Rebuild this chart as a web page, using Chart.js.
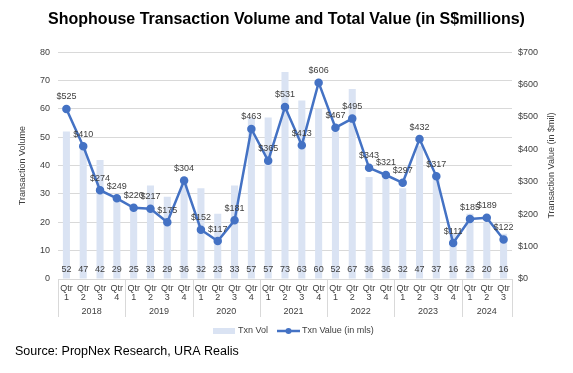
<!DOCTYPE html>
<html>
<head>
<meta charset="utf-8">
<script src="https://cdn.jsdelivr.net/npm/chart.js@4.4.1/dist/chart.umd.min.js"></script>
<style>
  html, body { margin: 0; padding: 0; background: #fff; }
  #wrap { width: 573px; height: 373px; position: relative; }
</style>
</head>
<body>
<div id="wrap"><canvas id="shopChart" width="573" height="373"></canvas></div>
<script>
const years = ["2018", "2019", "2020", "2021", "2022", "2023", "2024"];
const quarters = [
  "1", "2", "3", "4", "1", "2", "3", "4", "1", "2", "3", "4", "1", "2", "3", "4",
  "1", "2", "3", "4", "1", "2", "3", "4", "1", "2", "3"
];
const txnVol = [
  52, 47, 42, 29, 25, 33, 29, 36, 32, 23, 33, 57, 57, 73, 63, 60,
  52, 67, 36, 36, 32, 47, 37, 16, 23, 20, 16
];
const txnValue = [
  525, 410, 274, 249, 220, 217, 175, 304, 152, 117, 181, 463, 365, 531, 413, 606,
  467, 495, 343, 321, 297, 432, 317, 111, 185, 189, 122
];
const volTicks = [0, 10, 20, 30, 40, 50, 60, 70, 80];
const valueTicks = [0, 100, 200, 300, 400, 500, 600, 700];

const barColor = "#dae3f3";
const lineColor = "#4472c4";
const textColor = "#404040";
const gridColor = "#d9d9d9";
const font = "Arial, 'Liberation Sans', sans-serif";

// Qtr labels on two lines
const labels = quarters.map(q => ["Qtr", q]);

// labels, year groups, legend and source line
const extras = {
  id: "extras",
  afterDatasetsDraw(chart) {
    const ctx = chart.ctx;
    const area = chart.chartArea;
    ctx.save();
    ctx.font = "9px " + font;
    ctx.fillStyle = textColor;
    ctx.textAlign = "center";
    ctx.textBaseline = "middle";

    // volume labels near the bottom of each bar
    chart.getDatasetMeta(0).data.forEach((bar, i) => {
      ctx.fillText(String(txnVol[i]), bar.x, area.bottom - 9);
    });

    // value labels above each point
    chart.getDatasetMeta(1).data.forEach((pt, i) => {
      ctx.fillText("$" + txnValue[i], pt.x, pt.y - 12);
    });
    ctx.restore();
  },
  afterDraw(chart) {
    const ctx = chart.ctx;
    const area = chart.chartArea;
    const x = chart.scales.x;
    const step = (area.right - area.left) / quarters.length;
    ctx.save();

    // year groups under the quarter labels
    ctx.strokeStyle = gridColor;
    ctx.lineWidth = 1;
    ctx.font = "9px " + font;
    ctx.fillStyle = textColor;
    ctx.textAlign = "center";
    ctx.textBaseline = "middle";
    years.forEach((yr, g) => {
      const first = g * 4;
      const last = Math.min(first + 3, quarters.length - 1);
      const x0 = x.getPixelForValue(first) - step / 2;
      const x1 = x.getPixelForValue(last) + step / 2;
      ctx.beginPath();
      ctx.moveTo(Math.round(x0) + 0.5, area.bottom);
      ctx.lineTo(Math.round(x0) + 0.5, area.bottom + 38);
      if (g === years.length - 1) {
        ctx.moveTo(Math.round(x1) + 0.5, area.bottom);
        ctx.lineTo(Math.round(x1) + 0.5, area.bottom + 38);
      }
      ctx.stroke();
      ctx.fillText(yr, (x0 + x1) / 2, area.bottom + 33);
    });

    // right axis title, read bottom to top like the left one
    ctx.save();
    ctx.translate(552, (area.top + area.bottom) / 2);
    ctx.rotate(-Math.PI / 2);
    ctx.fillText("Transaction Value (in $mil)", 0, 0);
    ctx.restore();

    // legend
    const ly = 331;
    ctx.fillStyle = barColor;
    ctx.fillRect(213, ly - 3, 22, 6);
    ctx.fillStyle = textColor;
    ctx.textAlign = "left";
    ctx.fillText("Txn Vol", 238, ly);
    ctx.strokeStyle = lineColor;
    ctx.lineWidth = 2.5;
    ctx.beginPath();
    ctx.moveTo(277, ly);
    ctx.lineTo(300, ly);
    ctx.stroke();
    ctx.fillStyle = lineColor;
    ctx.beginPath();
    ctx.arc(288.5, ly, 3, 0, Math.PI * 2);
    ctx.fill();
    ctx.fillStyle = textColor;
    ctx.fillText("Txn Value (in mls)", 302, ly);

    // source
    ctx.fillStyle = "#000";
    ctx.font = "12.5px " + font;
    ctx.fillText("Source: PropNex Research, URA Realis", 15, 352);
    ctx.restore();
  }
};

new Chart(document.getElementById("shopChart"), {
  type: "bar",
  data: {
    labels: labels,
    datasets: [
      {
        type: "bar",
        label: "Txn Vol",
        data: txnVol,
        backgroundColor: barColor,
        yAxisID: "y",
        categoryPercentage: 1,
        barPercentage: 0.42,
        order: 2
      },
      {
        type: "line",
        label: "Txn Value (in mls)",
        data: txnValue,
        borderColor: lineColor,
        backgroundColor: lineColor,
        borderWidth: 2.5,
        pointRadius: 3,
        pointHoverRadius: 3,
        tension: 0,
        yAxisID: "y1",
        order: 1
      }
    ]
  },
  options: {
    responsive: false,
    animation: false,
    layout: { padding: { left: 0, right: 0, top: 0, bottom: 52 } },
    plugins: {
      legend: { display: false },
      tooltip: { enabled: false },
      title: {
        display: true,
        text: "Shophouse Transaction Volume and Total Value (in S$millions)",
        color: "#000",
        font: { family: font, size: 16, weight: "bold" },
        padding: { top: 10, bottom: 23 }
      }
    },
    scales: {
      x: {
        offset: true,
        grid: { display: false, drawTicks: false },
        border: { display: true, color: gridColor },
        ticks: {
          color: textColor,
          font: { family: font, size: 9, lineHeight: 1.0 },
          padding: 5,
          maxRotation: 0,
          autoSkip: false
        },
        afterFit(scale) { scale.height = 42; }
      },
      y: {
        position: "left",
        min: 0,
        max: 80,
        afterBuildTicks(scale) { scale.ticks = volTicks.map(v => ({ value: v })); },
        grid: { color: gridColor, drawTicks: false },
        border: { display: false },
        ticks: { color: textColor, font: { family: font, size: 9 }, padding: 8 },
        title: {
          display: true,
          text: "Transaction Volume",
          color: textColor,
          font: { family: font, size: 9 },
          padding: { top: 17, bottom: 0 }
        },
        afterFit(scale) { scale.width = 58; }
      },
      y1: {
        position: "right",
        min: 0,
        max: 700,
        afterBuildTicks(scale) { scale.ticks = valueTicks.map(v => ({ value: v })); },
        grid: { display: false, drawTicks: false },
        border: { display: false },
        ticks: {
          color: textColor,
          font: { family: font, size: 9 },
          padding: 6,
          callback: v => "$" + v
        },
        afterFit(scale) { scale.width = 61; }
      }
    }
  },
  plugins: [extras]
});
</script>
</body>
</html>
